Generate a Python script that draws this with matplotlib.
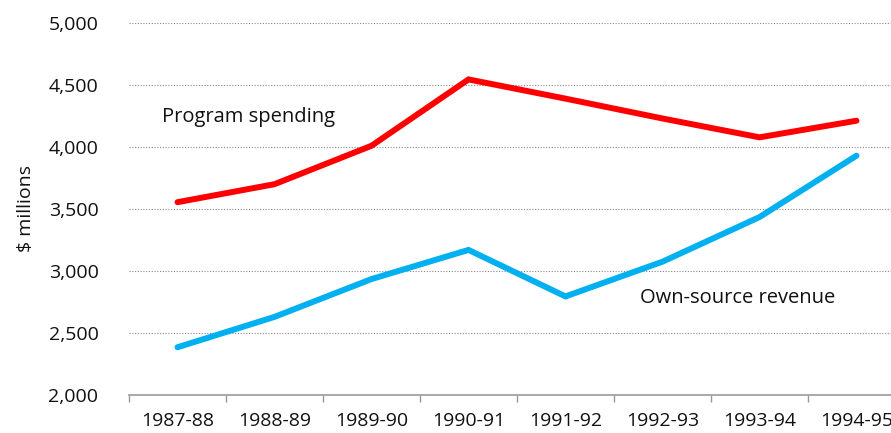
import matplotlib
matplotlib.use("Agg")
import matplotlib.pyplot as plt
import numpy as np

years = ["1987-88", "1988-89", "1989-90", "1990-91", "1991-92", "1992-93", "1993-94", "1994-95"]
program_spending = [3555, 3700, 4010, 4545, 4390, 4230, 4078, 4212]
own_source_revenue = [2385, 2630, 2935, 3170, 2795, 3075, 3435, 3930]
yticks = [2000, 2500, 3000, 3500, 4000, 4500, 5000]

plt.rcParams['font.family'] = ['Open Sans', 'DejaVu Sans']

W, H = 891, 433
fig = plt.figure(figsize=(W / 100, H / 100), dpi=100)
left_px, right_px, top_px, bottom_px = 129, 905, 23, 395
ax = fig.add_axes([left_px / W, (H - bottom_px) / H, (right_px - left_px) / W, (bottom_px - top_px) / H])

x = np.arange(len(years))
ax.plot(x, program_spending, color="#FF0000", lw=4.3, solid_capstyle="round", solid_joinstyle="miter", zorder=3)
ax.plot(x, own_source_revenue, color="#00B0F0", lw=4.3, solid_capstyle="round", solid_joinstyle="miter", zorder=3)

ax.set_xlim(-0.5, len(years) - 0.5)
ax.set_ylim(2000, 5000)
ax.set_yticks(yticks)
ax.set_yticklabels([f"{v:,}" for v in yticks])
ax.set_xticks(x)
ax.set_xticklabels(years)
ax.set_xticks(np.arange(len(years) + 1) - 0.5, minor=True)

fs = 14
ax.tick_params(axis='x', which='major', length=0, pad=12, labelsize=fs, colors="#111111")
ax.tick_params(axis='x', which='minor', length=5, width=1, color="#999999", direction="out")
ax.tick_params(axis='y', length=0, pad=22, labelsize=fs, colors="#111111")

for s in ['top', 'right', 'left']:
    ax.spines[s].set_visible(False)
ax.spines['bottom'].set_color("#999999")
ax.spines['bottom'].set_linewidth(1.2)

for v in yticks[1:]:
    ax.axhline(v, color="#888888", lw=0.8, ls=(0, (1, 1.5)), zorder=1)

ax.set_ylabel("$ millions", fontsize=fs, labelpad=10, color="#111111")

ax.text(-0.16, 4245, "Program spending", fontsize=14.5, color="#111111", va="center", ha="left")
ax.text(4.77, 2780, "Own-source revenue", fontsize=14.5, color="#111111", va="center", ha="left")

fig.savefig("out.png", dpi=100)
